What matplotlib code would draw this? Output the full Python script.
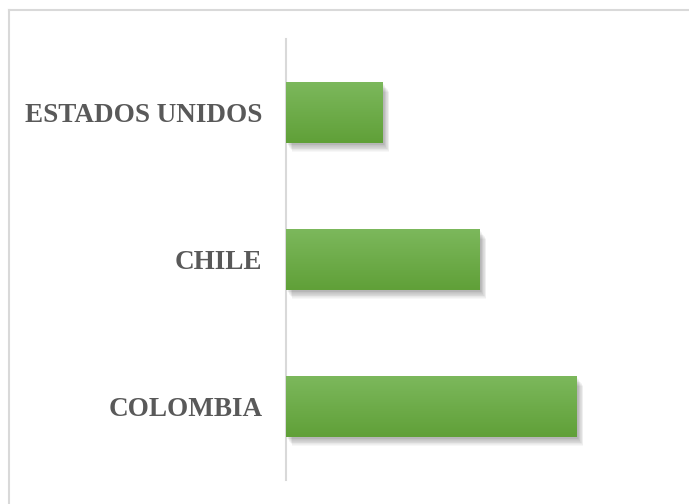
import numpy as np
import matplotlib
matplotlib.use("Agg")
import matplotlib.pyplot as plt
from matplotlib.lines import Line2D
from matplotlib.patches import Rectangle
import matplotlib.transforms as mtransforms

categories = ['COLOMBIA', 'CHILE', 'ESTADOS UNIDOS']
values = [3, 2, 1]

fig = plt.figure(figsize=(6.89, 5.04), dpi=100)
ax = fig.add_axes([286 / 689, 24 / 504, 388 / 689, 441 / 504])

ypos = np.arange(len(categories))
bar_h = 0.41
bars = ax.barh(ypos, values, height=bar_h, color='#6aab48', zorder=3)

# soft shadow below / right of each bar
for b in bars:
    x0, y0 = b.get_x(), b.get_y()
    w, h = b.get_width(), b.get_height()
    for i in range(10):
        off = mtransforms.offset_copy(ax.transData, fig=fig, x=1 + i * 0.6, y=-2 - i * 0.8, units='dots')
        r = Rectangle((x0, y0), w, h, transform=off, facecolor='#000000',
                      alpha=0.03, edgecolor='none', zorder=2)
        ax.add_patch(r)

# vertical gradient fill on bars
grad = np.linspace(0, 1, 100).reshape(-1, 1)
top_c = np.array([124, 184, 92]) / 255
bot_c = np.array([96, 160, 56]) / 255
img = top_c * (1 - grad[..., None]) + bot_c * grad[..., None]
for b in bars:
    x0, y0 = b.get_x(), b.get_y()
    w, h = b.get_width(), b.get_height()
    im = ax.imshow(img, extent=[x0, x0 + w, y0, y0 + h], origin='upper',
                   aspect='auto', zorder=4, interpolation='bilinear')
    im.set_clip_path(b)

ax.set_xlim(0, 4)
ax.set_ylim(-0.5, 2.5)
ax.set_yticks(ypos)
ax.set_yticklabels(categories, fontfamily='Liberation Serif', fontweight='bold',
                   fontsize=19.5, color='#595959')
ax.tick_params(axis='y', length=0, pad=17)
ax.set_xticks([])
for s in ['top', 'right', 'bottom']:
    ax.spines[s].set_visible(False)
ax.spines['left'].set_color('#d9d9d9')
ax.spines['left'].set_linewidth(1.5)
ax.set_facecolor('none')

# outer chart border (only top and left edges visible in the crop)
fig.add_artist(Line2D([9 / 689, 9 / 689], [0, 1 - 9.5 / 504], color='#d9d9d9', lw=1.5))
fig.add_artist(Line2D([9 / 689, 688 / 689], [1 - 9.5 / 504, 1 - 9.5 / 504], color='#d9d9d9', lw=1.5))

fig.savefig('out.png', dpi=100)
